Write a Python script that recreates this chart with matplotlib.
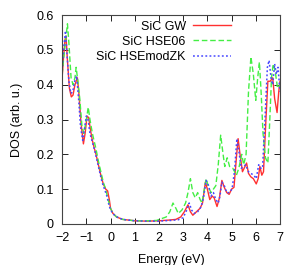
import matplotlib
matplotlib.use("Agg")
from matplotlib import pyplot as plt

# SiC GW
gw_x = [-2.0, -1.95, -1.88, -1.84, -1.78, -1.7, -1.62, -1.55, -1.47, -1.37, -1.3, -1.22, -1.12,
        -1.05, -0.97, -0.9, -0.83, -0.75, -0.68, -0.6, -0.5, -0.4, -0.3, -0.2, -0.12, -0.05,
        0.0, 0.1, 0.25, 0.5, 1.0, 1.5, 2.0, 2.4, 2.7, 2.9, 3.05, 3.2, 3.3, 3.4, 3.55, 3.7,
        3.8, 3.92, 4.0, 4.1, 4.2, 4.28, 4.4, 4.5, 4.6, 4.7, 4.8, 4.9, 5.0, 5.1, 5.2, 5.27,
        5.35, 5.45, 5.52, 5.62, 5.7, 5.8, 5.9, 6.02, 6.1, 6.17, 6.25, 6.32, 6.42, 6.5, 6.6,
        6.7, 6.78, 6.88, 6.95, 7.0]
gw_y = [0.42, 0.47, 0.53, 0.54, 0.47, 0.39, 0.365, 0.37, 0.40, 0.42, 0.37, 0.29, 0.23,
        0.26, 0.31, 0.305, 0.27, 0.24, 0.22, 0.2, 0.17, 0.14, 0.115, 0.10, 0.095, 0.07,
        0.045, 0.03, 0.02, 0.013, 0.009, 0.008, 0.009, 0.011, 0.013, 0.02, 0.035, 0.055,
        0.035, 0.025, 0.035, 0.045, 0.06, 0.12, 0.10, 0.07, 0.08, 0.075, 0.05, 0.075, 0.125,
        0.105, 0.09, 0.085, 0.1, 0.105, 0.19, 0.245, 0.2, 0.15, 0.16, 0.175, 0.145, 0.135,
        0.13, 0.115, 0.13, 0.165, 0.14, 0.15, 0.3, 0.41, 0.41, 0.42, 0.36, 0.32, 0.38, 0.41]

# SiC HSE06
hse_x = [-2.0, -1.93, -1.85, -1.78, -1.72, -1.63, -1.55, -1.47, -1.42, -1.35, -1.27, -1.18,
         -1.1, -1.0, -0.92, -0.85, -0.75, -0.6, -0.5, -0.4, -0.3, -0.2, -0.1, 0.0, 0.1, 0.25,
         0.5, 1.0, 1.5, 1.9, 2.1, 2.3, 2.45, 2.58, 2.7, 2.8, 2.95, 3.1, 3.2, 3.3, 3.4, 3.5,
         3.6, 3.7, 3.78, 3.85, 3.95, 4.05, 4.15, 4.25, 4.35, 4.45, 4.55, 4.65, 4.72, 4.82,
         4.92, 5.05, 5.2, 5.3, 5.42, 5.5, 5.6, 5.7, 5.8, 5.9, 6.0, 6.08, 6.15, 6.22, 6.3,
         6.4, 6.5, 6.58, 6.65, 6.72, 6.8, 6.9, 7.0]
hse_y = [0.43, 0.48, 0.53, 0.575, 0.52, 0.42, 0.4, 0.42, 0.45, 0.41, 0.36, 0.28,
         0.26, 0.3, 0.335, 0.3, 0.26, 0.215, 0.18, 0.15, 0.12, 0.1, 0.07, 0.045, 0.03, 0.02,
         0.013, 0.009, 0.009, 0.01, 0.015, 0.02, 0.035, 0.06, 0.045, 0.03, 0.04, 0.06, 0.09,
         0.13, 0.09, 0.075, 0.09, 0.07, 0.06, 0.09, 0.13, 0.105, 0.09, 0.1, 0.11, 0.17, 0.255,
         0.2, 0.165, 0.19, 0.165, 0.16, 0.14, 0.16, 0.2, 0.17, 0.2, 0.38, 0.48, 0.43, 0.355,
         0.42, 0.465, 0.38, 0.26, 0.19, 0.175, 0.3, 0.42, 0.46, 0.44, 0.39, 0.4]

# SiC HSEmodZK
zk_x = [-2.0, -1.94, -1.86, -1.8, -1.72, -1.64, -1.56, -1.48, -1.4, -1.32, -1.24, -1.15,
        -1.08, -1.0, -0.93, -0.85, -0.75, -0.65, -0.55, -0.45, -0.35, -0.25, -0.15, -0.05,
        0.05, 0.2, 0.5, 1.0, 1.5, 2.0, 2.5, 2.8, 3.0, 3.15, 3.25, 3.35, 3.45, 3.6, 3.75,
        3.85, 3.95, 4.05, 4.15, 4.25, 4.35, 4.45, 4.52, 4.6, 4.7, 4.8, 4.9, 5.02, 5.12,
        5.22, 5.3, 5.4, 5.5, 5.58, 5.7, 5.8, 5.92, 6.02, 6.12, 6.2, 6.28, 6.38, 6.48, 6.55,
        6.63, 6.7, 6.78, 6.85, 6.92, 7.0]
zk_y = [0.44, 0.5, 0.555, 0.49, 0.41, 0.375, 0.38, 0.41, 0.425, 0.36, 0.28, 0.24,
        0.27, 0.31, 0.3, 0.26, 0.235, 0.21, 0.18, 0.15, 0.12, 0.1, 0.08, 0.05,
        0.035, 0.022, 0.013, 0.009, 0.008, 0.008, 0.01, 0.012, 0.018, 0.04, 0.06, 0.04,
        0.03, 0.035, 0.05, 0.08, 0.125, 0.11, 0.08, 0.09, 0.07, 0.06, 0.08, 0.12, 0.11,
        0.09, 0.09, 0.1, 0.15, 0.245, 0.21, 0.16, 0.165, 0.17, 0.15, 0.145, 0.14, 0.13,
        0.17, 0.16, 0.16, 0.3, 0.45, 0.47, 0.42, 0.4, 0.46, 0.43, 0.45, 0.38]

plt.rcParams["font.family"] = ["Liberation Sans", "DejaVu Sans"]
plt.rcParams["font.size"] = 9

fig = plt.figure(figsize=(3.03, 2.65), dpi=100)
ax = fig.add_axes([0.205, 0.155, 0.719, 0.788])

ax.plot(gw_x, gw_y, color="#ff3030", lw=1.0, label="SiC GW")
ax.plot(hse_x, hse_y, color="#44ee44", lw=1.0, ls=(0, (4, 2)), label="SiC HSE06")
ax.plot(zk_x, zk_y, color="#4848ff", lw=1.1, ls=(0, (1.2, 1.5)), label="SiC HSEmodZK")

ax.set_xlim(-2, 7)
ax.set_ylim(0, 0.6)
ax.set_xticks(range(-2, 8))
ax.set_yticks([0, 0.1, 0.2, 0.3, 0.4, 0.5, 0.6])
ax.set_yticklabels(["0", "0.1", "0.2", "0.3", "0.4", "0.5", "0.6"])
ax.tick_params(direction="in", top=True, right=True, length=4, width=0.6)
ax.tick_params(axis="y", pad=6)
ax.tick_params(axis="x", pad=6)
for s in ax.spines.values():
    s.set_linewidth(0.8)
    s.set_color("#444444")

ax.set_xlabel("Energy (eV)", labelpad=7)
ax.set_ylabel("DOS (arb. u.)", labelpad=10)

ax.legend(loc="upper right", bbox_to_anchor=(0.8, 1.0), frameon=False, markerfirst=False,
          handlelength=3.0, handletextpad=0.6, labelspacing=0.25, borderaxespad=0.05)

plt.savefig("out.png", dpi=100)
